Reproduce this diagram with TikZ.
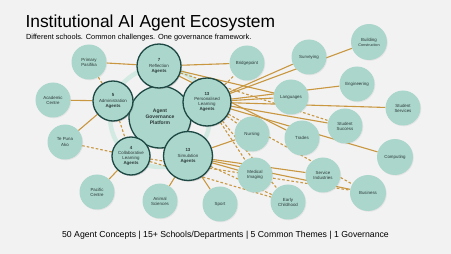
\documentclass[tikz,border=0pt]{standalone}
\usepackage{fontspec}
\setmainfont{Liberation Sans}
\usetikzlibrary{shadows, backgrounds}
\definecolor{bgcol}{HTML}{F2F2F2}
\definecolor{mint}{HTML}{AAD6CB}
\definecolor{ringcol}{HTML}{D3EAE3}
\definecolor{rimcol}{HTML}{1E4844}
\definecolor{goldline}{HTML}{C8973F}
\definecolor{inkcol}{HTML}{2B3836}

\begin{document}
\begin{tikzpicture}[x=1pt, y=-1pt,
			hub/.style={circle, fill=mint, draw=rimcol, line width=1.3pt, minimum size=#1, inner sep=0pt, align=center, text=inkcol, font=\fontsize{4.4}{5.1}\selectfont, drop shadow={opacity=0.3, shadow xshift=1pt, shadow yshift=-1.2pt}},
			hub/.default=44pt,
			unit/.style={circle, fill=mint, minimum size=35pt, inner sep=0pt, align=center, text=inkcol, font=\fontsize{4.4}{5.1}\selectfont, drop shadow={opacity=0.12, shadow xshift=0.8pt, shadow yshift=-0.8pt}},
			link/.style={goldline, line width=1.1pt},
			dlink/.style={link, dash pattern=on 2.6pt off 2pt}
			]
			\useasboundingbox (0,0) rectangle (451,254);
			\node[anchor=base west, font=\fontsize{17.4}{20}\selectfont] (title) at (22,28) {Institutional AI Agent Ecosystem};
			\node[anchor=base west, font=\fontsize{7.4}{9}\selectfont] (subtitle) at (22.5,40) {Different schools. Common challenges. One governance framework.};
			\node[anchor=base, font=\fontsize{8.7}{10}\selectfont] (stats) at (225.5,238) {50 Agent Concepts | 15+ Schools/Departments | 5 Common Themes | 1 Governance};
			\node[hub=62pt, font=\fontsize{5}{5.9}\selectfont\bfseries] (plat) at (160,117) {Agent\\Governance\\Platform};
			\node[hub] (refl) at (159,66) {\textbf{7}\\Reflection\\\textbf{Agents}};
			\node[hub=40pt] (admin) at (113,101) {\textbf{5}\\Administration\\\textbf{Agents}};
			\node[hub=48pt] (pers) at (207,102) {\textbf{13}\\Personalised\\Learning\\\textbf{Agents}};
			\node[hub=38pt] (collab) at (131,156) {\textbf{4}\\Collaborative\\Learning\\\textbf{Agents}};
			\node[hub=49pt] (simu) at (188,156) {\textbf{13}\\Simulation\\\textbf{Agents}};
			\node[unit] (pasifika) at (89,62) {Primary\\Pasifika};
			\node[unit] (academic) at (53,100) {Academic\\Centre};
			\node[unit] (tepuna) at (65,142) {Te Puna\\Ako};
			\node[unit] (pacific) at (97,192) {Pacific\\Centre};
			\node[unit] (animal) at (160,201) {Animal\\Sciences};
			\node[unit] (sport) at (220,204) {Sport};
			\node[unit] (bridge) at (247,63) {Bridgepoint};
			\node[unit] (survey) at (309,57) {Surveying};
			\node[unit, minimum size=36pt] (build) at (369,42) {Building\\{\fontsize{3.8}{4.5}\selectfont Construction}};
			\node[unit] (engin) at (357,84) {Engineering};
			\node[unit] (lang) at (291,97) {Languages};
			\node[unit] (stserv) at (403,108) {Student\\Services};
			\node[unit] (stsucc) at (345,126) {Student\\Success};
			\node[unit] (nursing) at (252,134) {Nursing};
			\node[unit] (trades) at (302,138) {Trades};
			\node[unit, minimum size=36pt] (comput) at (395,157) {Computing};
			\node[unit] (medical) at (255,175) {Medical\\Imaging};
			\node[unit] (servind) at (323,175) {Service\\Industries};
			\node[unit, minimum size=36pt] (business) at (368,193) {Business};
			\node[unit] (early) at (288,202) {Early\\Childhood};
			\begin{pgfonlayer}{background}
				\fill[bgcol] (0,0) rectangle (451,254);
				\draw[ringcol, line width=4.5pt] (plat.center) circle (50pt);
				\foreach \a/\b in {refl/pasifika, admin/academic, admin/tepuna, collab/pacific, simu/animal, simu/sport, refl/bridge, refl/lang, refl/trades, pers/survey, pers/build, pers/engin, pers/lang, pers/stserv, pers/stsucc, pers/comput, simu/nursing, simu/medical, simu/servind, simu/business} {\draw[link] (\a) -- (\b);}
				\foreach \a/\b in {admin/pasifika, admin/collab, collab/tepuna, pers/bridge, refl/stsucc, pers/nursing, pers/medical, pers/business, pers/early, simu/early, collab/early, collab/business} {\draw[dlink] (\a) -- (\b);}
			\end{pgfonlayer}
		\end{tikzpicture}
\end{document}
